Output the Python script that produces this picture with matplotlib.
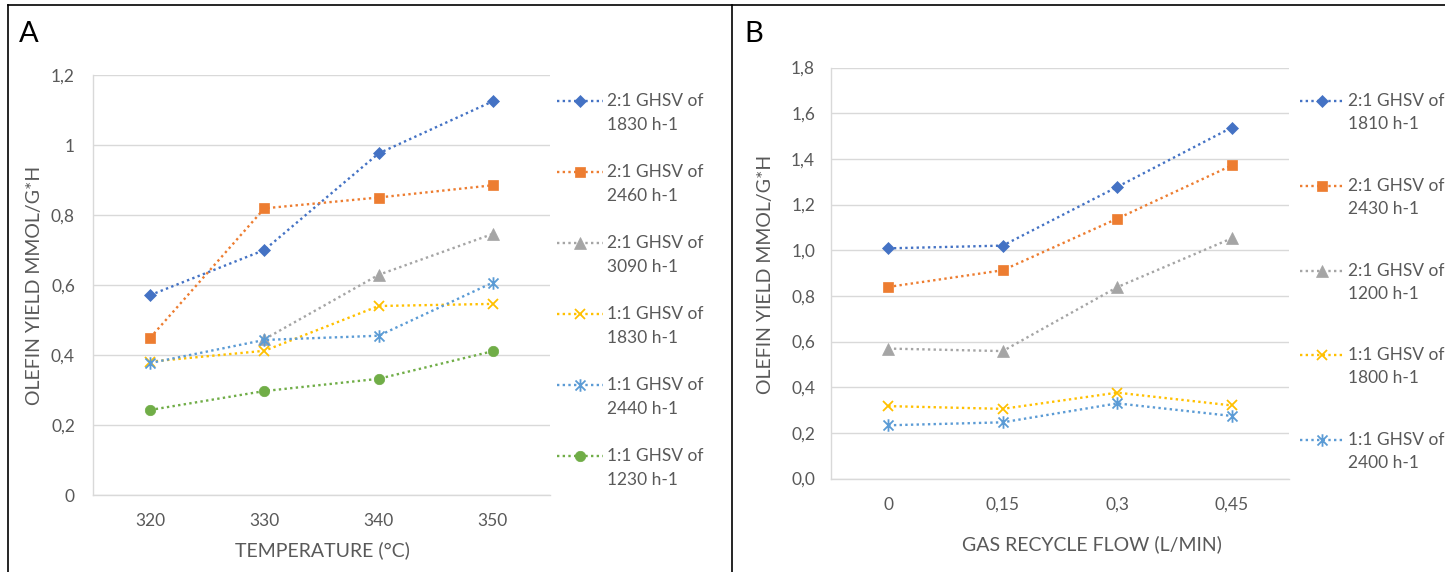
import matplotlib
matplotlib.use("Agg")
import matplotlib.pyplot as plt
import numpy as np
from matplotlib.path import Path
from matplotlib.lines import Line2D

plt.rcParams['font.family'] = ['Lato', 'DejaVu Sans']

# ---------------- data ----------------
temps = ["320", "330", "340", "350"]
a_21_1830 = [0.571, 0.700, 0.976, 1.125]
a_21_2460 = [0.449, 0.819, 0.850, 0.885]
a_21_3090 = [np.nan, 0.445, 0.629, 0.746]
a_11_1830 = [0.381, 0.412, 0.540, 0.546]
a_11_2440 = [0.377, 0.443, 0.455, 0.607]
a_11_1230 = [0.243, 0.297, 0.332, 0.411]
a_labels = ["2:1 GHSV of\n1830 h-1", "2:1 GHSV of\n2460 h-1", "2:1 GHSV of\n3090 h-1",
            "1:1 GHSV of\n1830 h-1", "1:1 GHSV of\n2440 h-1", "1:1 GHSV of\n1230 h-1"]
a_yticks = [0, 0.2, 0.4, 0.6, 0.8, 1.0, 1.2]
a_yticklabels = ["0", "0,2", "0,4", "0,6", "0,8", "1", "1,2"]

flows = ["0", "0,15", "0,3", "0,45"]
b_21_1810 = [1.008, 1.020, 1.277, 1.537]
b_21_2430 = [0.839, 0.912, 1.138, 1.371]
b_21_1200 = [0.569, 0.558, 0.838, 1.052]
b_11_1800 = [0.317, 0.305, 0.376, 0.320]
b_11_2400 = [0.233, 0.246, 0.329, 0.274]
b_labels = ["2:1 GHSV of\n1810 h-1", "2:1 GHSV of\n2430 h-1", "2:1 GHSV of\n1200 h-1",
            "1:1 GHSV of\n1800 h-1", "1:1 GHSV of\n2400 h-1"]
b_yticks = [0, 0.2, 0.4, 0.6, 0.8, 1.0, 1.2, 1.4, 1.6, 1.8]
b_yticklabels = ["0,0", "0,2", "0,4", "0,6", "0,8", "1,0", "1,2", "1,4", "1,6", "1,8"]

# ---------------- styles ----------------
W, H = 1445, 572
star = Path([(-1, -1), (1, 1), (-1, 1), (1, -1), (0, -1.25), (0, 1.25)],
            [Path.MOVETO, Path.LINETO, Path.MOVETO, Path.LINETO, Path.MOVETO, Path.LINETO])
styles = [
    dict(color='#4472C4', marker='D', ms=6.0, filled=True),
    dict(color='#ED7D31', marker='s', ms=7.0, filled=True),
    dict(color='#A5A5A5', marker='^', ms=8.0, filled=True),
    dict(color='#FFC000', marker='x', ms=7.5, filled=False),
    dict(color='#5B9BD5', marker=star, ms=9.0, filled=False),
    dict(color='#70AD47', marker='o', ms=7.5, filled=True),
]
TXT = '#595959'
GRID = '#D9D9D9'
DOT = (0, (1, 1.4))
LW = 1.7

fig = plt.figure(figsize=(W / 100, H / 100), dpi=100)


def fx(px):
    return px / W


def fy(py):
    return 1 - py / H


def series_kwargs(st):
    kw = dict(color=st['color'], linestyle=DOT, linewidth=LW, marker=st['marker'],
              markersize=st['ms'])
    if st['filled']:
        kw.update(markerfacecolor=st['color'], markeredgecolor=st['color'], markeredgewidth=0.5)
    else:
        kw.update(markerfacecolor='none', markeredgecolor=st['color'], markeredgewidth=1.3)
    return kw


def make_panel(rect, cats, series, ylim, yticks, yticklabels, ypad):
    ax = fig.add_axes(rect)
    x = np.arange(len(cats))
    for vals, st in zip(series, styles):
        ax.plot(x, vals, **series_kwargs(st), zorder=3)
    ax.set_xlim(-0.5, len(cats) - 0.5)
    ax.set_ylim(*ylim)
    ax.set_xticks(x)
    ax.set_xticklabels(cats)
    ax.set_yticks(yticks)
    ax.set_yticklabels(yticklabels)
    ax.tick_params(axis='both', length=0, colors=TXT, labelsize=12.5)
    ax.tick_params(axis='x', pad=13)
    ax.tick_params(axis='y', pad=ypad)
    ax.grid(axis='y', color=GRID, linewidth=1.0)
    ax.set_axisbelow(True)
    for s in ['top', 'right']:
        ax.spines[s].set_visible(False)
    for s in ['left', 'bottom']:
        ax.spines[s].set_color(GRID)
        ax.spines[s].set_linewidth(1.0)
    return ax


def draw_legend(labels, x0, x1, xt, y0, dy, line_gap):
    for i, (lab, st) in enumerate(zip(labels, styles)):
        y = y0 + i * dy
        kw = series_kwargs(st)
        fig.add_artist(Line2D([fx(x0), fx(x1)], [fy(y), fy(y)], transform=fig.transFigure,
                              color=kw['color'], linestyle=DOT, linewidth=LW))
        fig.add_artist(Line2D([fx((x0 + x1) / 2)], [fy(y)], transform=fig.transFigure,
                              linestyle='none', marker=kw['marker'], markersize=kw['markersize'],
                              markerfacecolor=kw['markerfacecolor'],
                              markeredgecolor=kw['markeredgecolor'],
                              markeredgewidth=kw['markeredgewidth']))
        for j, part in enumerate(lab.split("\n")):
            fig.text(fx(xt), fy(y + j * line_gap), part, ha='left', va='center',
                     fontsize=12.5, color=TXT)


# Panel A
axA = make_panel([fx(93), fy(495), fx(550) - fx(93), fy(75) - fy(495)], temps,
                 [a_21_1830, a_21_2460, a_21_3090, a_11_1830, a_11_2440, a_11_1230],
                 (0, 1.2), a_yticks, a_yticklabels, 13)
fig.text(fx(35), fy(285), "OLEFIN YIELD MMOL/G*H", rotation=90, ha='center', va='center',
         fontsize=14, color=TXT)
fig.text(fx(322), fy(550), "TEMPERATURE (°C)", ha='center', va='center', fontsize=14, color=TXT)
draw_legend(a_labels, 557, 603, 607, 101, 71, 24)
fig.text(fx(19), fy(42), "A", fontsize=21, color='black', ha='left', va='baseline')

# Panel B
axB = make_panel([fx(831), fy(478.5), fx(1289) - fx(831), fy(67.5) - fy(478.5)], flows,
                 [b_21_1810, b_21_2430, b_21_1200, b_11_1800, b_11_2400],
                 (0, 1.8), b_yticks, b_yticklabels, 11.5)
fig.text(fx(766), fy(274), "OLEFIN YIELD MMOL/G*H", rotation=90, ha='center', va='center',
         fontsize=14, color=TXT)
fig.text(fx(1092), fy(544), "GAS RECYCLE FLOW (L/MIN)", ha='center', va='center',
         fontsize=14, color=TXT)
draw_legend(b_labels, 1300, 1344, 1348, 101, 84.8, 23)
fig.text(fx(744), fy(42), "B", fontsize=21, color='black', ha='left', va='baseline')

# Panel borders
for xs, ys in [([7.5, 7.5], [5, 572]), ([7.5, 1445], [5, 5]), ([731.5, 731.5], [5, 572])]:
    fig.add_artist(Line2D([fx(v) for v in xs], [fy(v) for v in ys], transform=fig.transFigure,
                          color='black', linewidth=1.2))

fig.savefig("out.png", dpi=100)
